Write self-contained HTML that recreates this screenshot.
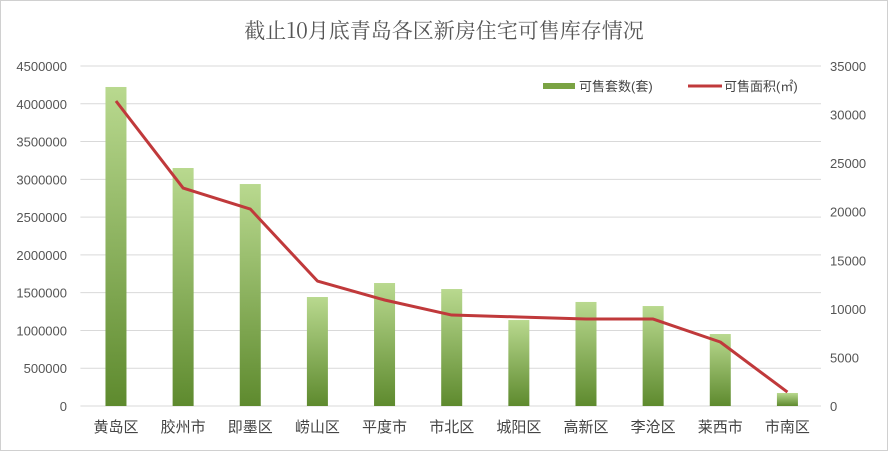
<!DOCTYPE html>
<html><head><meta charset="utf-8"><style>
html,body{margin:0;padding:0;background:#fff}
svg{display:block;font-family:"Liberation Sans","Noto Sans CJK SC",sans-serif}
</style></head><body>
<svg width="888" height="451" viewBox="0 0 888 451">
<defs><linearGradient id="bg" x1="0" y1="0" x2="0" y2="1"><stop offset="0" stop-color="#b9d98f"/><stop offset="1" stop-color="#5e8a2e"/></linearGradient></defs>
<rect x="0.5" y="0.5" width="887" height="450" fill="#fff" stroke="#d0d0d0"/>
<text x="444" y="38" text-anchor="middle" font-size="21" fill="#555" font-family="'Noto Serif CJK SC','Liberation Serif',serif">截止10月底青岛各区新房住宅可售库存情况</text>
<g id="grid"></g><g id="bars"></g><g id="line"></g><g id="axes"></g>
<g>
<rect x="543" y="83" width="32" height="6" fill="#7aa343"/>
<text x="579" y="91" font-size="13" fill="#444">可售套数(套)</text>
<line x1="688" y1="86" x2="722" y2="86" stroke="#c0393b" stroke-width="3"/>
<text x="724" y="91" font-size="13" fill="#444">可售面积(㎡)</text>
</g>
</svg>
<script>
const categories=["黄岛区","胶州市","即墨区","崂山区","平度市","市北区","城阳区","高新区","李沧区","莱西市","市南区"];
const units=[32840,24500,22850,11220,12660,12040,8850,10710,10290,7410,1340];
const area=[4037000,2885000,2607000,1654000,1403000,1204000,1178000,1151000,1151000,847000,185000];
const leftTicks=[0,500000,1000000,1500000,2000000,2500000,3000000,3500000,4000000,4500000];
const rightTicks=[0,5000,10000,15000,20000,25000,30000,35000];
const NS="http://www.w3.org/2000/svg";
const X0=82.4,X1=821,Y0=406,Y1=66;
const band=(X1-X0)/categories.length;
const xc=i=>X0+band*(i+0.5);
const yL=v=>Y0-(v/4500000)*(Y0-Y1);
const yR=v=>Y0-(v/35000)*(Y0-Y1);
function mk(tag,attrs,parent,txt){const e=document.createElementNS(NS,tag);for(const k in attrs)e.setAttribute(k,attrs[k]);if(txt!==undefined)e.textContent=txt;document.getElementById(parent).appendChild(e);return e;}
leftTicks.forEach(t=>{
 const g=mk("line",{x1:X0-2,x2:X1,y1:yL(t),y2:yL(t),stroke:"#d9d9d9","stroke-width":1},"grid");
 
 
 const l=mk("text",{x:67,y:yL(t)+5,"text-anchor":"end","font-size":13,fill:"#555"},"axes",String(t));
 
 
});
rightTicks.forEach(t=>{
 const l=mk("text",{x:830,y:yR(t)+5,"font-size":13,fill:"#555"},"axes",String(t));
 
 
});
categories.forEach((c,i)=>{
 const h=Y0-yR(units[i]);
 const b=mk("rect",{x:xc(i)-10.5,y:yR(units[i]),width:21,height:h,fill:"url(#bg)"},"bars");
 
 
 const l=mk("text",{x:xc(i),y:432,"text-anchor":"middle","font-size":15,fill:"#444"},"axes",c);
 
 
});
const pts=area.map((v,i)=>xc(i)+","+yL(v)).join(" ");
const pl=mk("polyline",{points:pts,fill:"none",stroke:"#c0393b","stroke-width":3,"stroke-linejoin":"round"},"line");


</script>
</body></html>
